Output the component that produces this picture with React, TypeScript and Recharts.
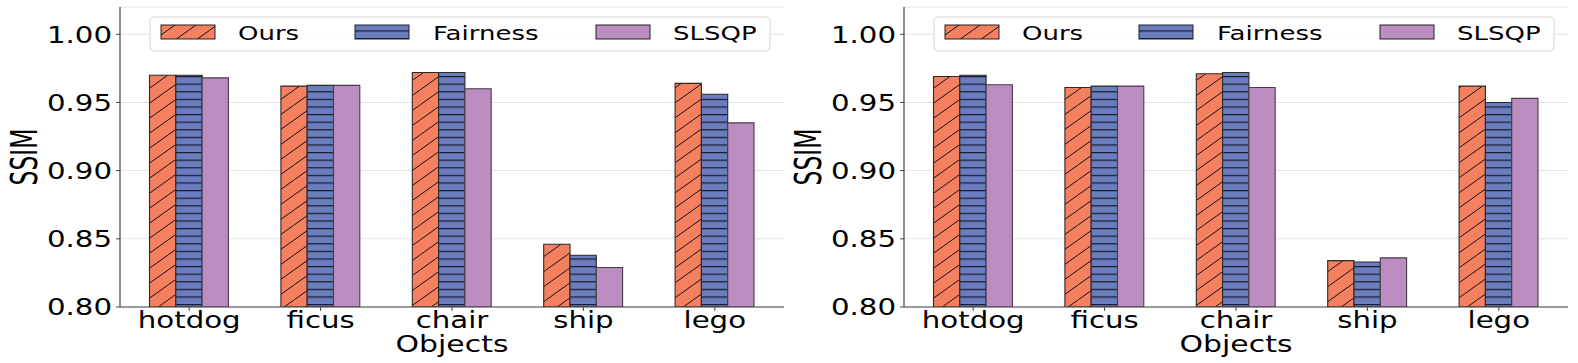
import React from 'react';
import { BarChart, Bar, XAxis, YAxis, CartesianGrid } from 'recharts';

const categories = ['hotdog', 'ficus', 'chair', 'ship', 'lego'];
const leftOurs = [0.970, 0.962, 0.972, 0.846, 0.964];
const leftFairness = [0.970, 0.9625, 0.972, 0.838, 0.956];
const leftSlsqp = [0.968, 0.9625, 0.960, 0.829, 0.935];
const rightOurs = [0.969, 0.961, 0.971, 0.834, 0.962];
const rightFairness = [0.970, 0.962, 0.972, 0.833, 0.950];
const rightSlsqp = [0.963, 0.962, 0.961, 0.836, 0.953];
const yTicks = [0.8, 0.85, 0.9, 0.95, 1.0];
const seriesNames = ['Ours', 'Fairness', 'SLSQP'];

const C_OURS = '#F4805F';
const C_FAIR = '#6A7DBE';
const C_SLSQP = '#BC8DC0';
const FONT = 'DejaVu Sans';
const SX = 1.3;

const makeData = (a: number[], b: number[], c: number[]) =>
  categories.map((name, i) => ({ name, ours: a[i], fairness: b[i], slsqp: c[i] }));

const YTick = (props: any) => {
  const { x, y, payload } = props;
  return (
    <g transform={`translate(${x},${y})`}>
      <text x={0} y={0} dy={8.3} textAnchor="end" transform={`scale(${SX},1)`} fontSize={22.5} fontFamily={FONT} fill="#000">
        {Number(payload.value).toFixed(2)}
      </text>
    </g>
  );
};

const XTick = (props: any) => {
  const { x, y, payload } = props;
  return (
    <g transform={`translate(${x},${y})`}>
      <text x={0} y={0} dy={15} textAnchor="middle" transform={`scale(${SX},1)`} fontSize={22.5} fontFamily={FONT} fill="#000">
        {payload.value}
      </text>
    </g>
  );
};

const YLabel = (props: any) => {
  const { viewBox } = props;
  const cx = viewBox.x + 24;
  const cy = viewBox.y + viewBox.height / 2;
  return (
    <text transform={`translate(${cx},${cy}) rotate(-90) scale(0.87,1.35)`} x={0} y={0} dy={9.8} textAnchor="middle" fontSize={27} fontFamily={FONT} fill="#000">
      SSIM
    </text>
  );
};

const XLabel = (props: any) => {
  const { viewBox } = props;
  const cx = viewBox.x + viewBox.width / 2;
  return (
    <text transform={`translate(${cx},351.5) scale(${SX},1)`} x={0} y={0} textAnchor="middle" fontSize={23} fontFamily={FONT} fill="#000">
      Objects
    </text>
  );
};

const Defs = ({ id }: { id: string }) => (
  <defs>
    <pattern id={`${id}-ours`} patternUnits="userSpaceOnUse" width={21} height={15}>
      <rect x={0} y={0} width={21} height={15} fill={C_OURS} />
      <path d="M0,15 L21,0 M-21,15 L0,0 M21,15 L42,0" stroke="#111" strokeWidth={1} />
    </pattern>
    <pattern id={`${id}-fair`} patternUnits="userSpaceOnUse" width={10} height={7.6}>
      <rect x={0} y={0} width={10} height={7.6} fill={C_FAIR} />
      <line x1={0} y1={0.6} x2={10} y2={0.6} stroke="#1a1a2a" strokeWidth={1.2} />
    </pattern>
  </defs>
);

const LegendBox = ({ id }: { id: string }) => {
  const items = [
    { fill: `url(#${id}-ours)`, px: 161, tx: 238 },
    { fill: `url(#${id}-fair)`, px: 355, tx: 433 },
    { fill: C_SLSQP, px: 596, tx: 673 },
  ];
  return (
    <g>
      <rect x={150} y={17} width={620} height={34} rx={4} fill="#fff" fillOpacity={0.8} stroke="#d6d6d6" strokeWidth={1} />
      {items.map((it, i) => (
        <g key={i}>
          <rect x={it.px} y={25} width={54} height={14} fill={it.fill} stroke="#222" strokeWidth={1} />
          <text transform={`translate(${it.tx},39.5) scale(${SX},1)`} x={0} y={0} fontSize={20} fontFamily={FONT} fill="#000">
            {seriesNames[i]}
          </text>
        </g>
      ))}
    </g>
  );
};

const Panel = ({ id, data }: { id: string; data: any[] }) => (
  <BarChart
    width={786}
    height={363}
    data={data}
    margin={{ top: 7, right: 2, bottom: 0, left: 0 }}
    barGap={0}
    barSize={26.3}
  >
    <Defs id={id} />
    <CartesianGrid vertical={false} stroke="#e4e4e4" strokeWidth={1} />
    <XAxis
      dataKey="name"
      height={56}
      padding={{ left: 3.5, right: 3.5 }}
      tick={<XTick />}
      tickSize={4}
      tickLine={{ stroke: '#444' }}
      axisLine={{ stroke: '#444', strokeWidth: 1.2 }}
      interval={0}
      label={<XLabel />}
    />
    <XAxis xAxisId="top" orientation="top" dataKey="name" height={0} tick={false} tickLine={false} axisLine={{ stroke: '#444', strokeWidth: 1.2 }} />
    <YAxis
      width={120}
      domain={[0.8, 1.02]}
      ticks={yTicks}
      allowDataOverflow
      tick={<YTick />}
      tickSize={4}
      tickMargin={4}
      tickLine={{ stroke: '#444' }}
      axisLine={{ stroke: '#444', strokeWidth: 1.2 }}
      label={<YLabel />}
    />
    <YAxis yAxisId="right" orientation="right" width={0} domain={[0.8, 1.02]} tick={false} tickLine={false} axisLine={{ stroke: '#444', strokeWidth: 1.2 }} />
    <Bar dataKey="ours" fill={`url(#${id}-ours)`} stroke="#2a2a2a" strokeWidth={1.1} isAnimationActive={false} />
    <Bar dataKey="fairness" fill={`url(#${id}-fair)`} stroke="#2a2a2a" strokeWidth={1.1} isAnimationActive={false} />
    <Bar dataKey="slsqp" fill={C_SLSQP} stroke="#4a3a4c" strokeWidth={1.1} isAnimationActive={false} />
    <LegendBox id={id} />
  </BarChart>
);

export default function App() {
  const leftData = makeData(leftOurs, leftFairness, leftSlsqp);
  const rightData = makeData(rightOurs, rightFairness, rightSlsqp);
  return (
    <div style={{ position: 'absolute', left: 0, top: 0, width: 1578, height: 363, background: '#fff' }}>
      <div style={{ position: 'absolute', left: 0, top: 0 }}>
        <Panel id="pl" data={leftData} />
      </div>
      <div style={{ position: 'absolute', left: 784, top: 0 }}>
        <Panel id="pr" data={rightData} />
      </div>
    </div>
  );
}
